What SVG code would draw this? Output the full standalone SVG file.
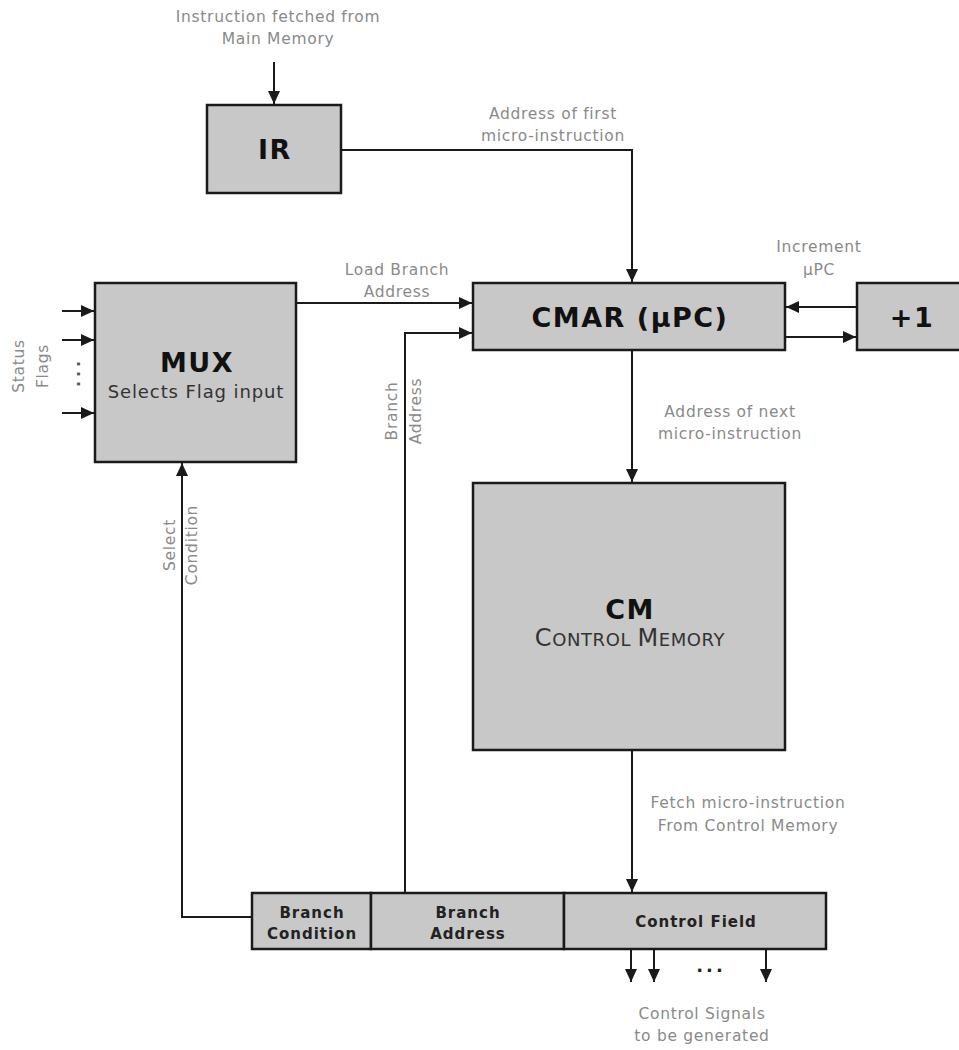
<svg xmlns="http://www.w3.org/2000/svg" width="959" height="1050" viewBox="0 0 959 1050">
<style>
.box{fill:#c8c8c8;stroke:#1a1a1a;stroke-width:2.5}
.ln{fill:none;stroke:#1a1a1a;stroke-width:2}
.lbl{font-family:"DejaVu Sans",Verdana,sans-serif;font-size:15.5px;letter-spacing:0.7px;fill:#8a8a8a;text-anchor:middle}
.big{font-family:"DejaVu Sans",Verdana,sans-serif;font-size:27px;letter-spacing:1.5px;font-weight:bold;fill:#111;text-anchor:middle}
.sub{font-family:"DejaVu Sans",Verdana,sans-serif;font-size:18px;letter-spacing:0.9px;fill:#333;text-anchor:middle}
.fld{font-family:"DejaVu Sans",Verdana,sans-serif;font-size:15px;letter-spacing:1px;font-weight:bold;fill:#222;text-anchor:middle}
</style>
<defs>
<marker id="ah" markerUnits="userSpaceOnUse" markerWidth="14" markerHeight="12" refX="13" refY="6" orient="auto">
<path d="M0,0 L13,6 L0,12 Z" fill="#1a1a1a"/>
</marker>
</defs>
<g id="connectors">
<line class="ln" x1="274" y1="62" x2="274" y2="104" marker-end="url(#ah)"/>
<polyline class="ln" points="341,150 632,150 632,282" marker-end="url(#ah)"/>
<line class="ln" x1="296" y1="303" x2="472" y2="303" marker-end="url(#ah)"/>
<polyline class="ln" points="405,893 405,333 472,333" marker-end="url(#ah)"/>
<line class="ln" x1="857" y1="307" x2="786" y2="307" marker-end="url(#ah)"/>
<line class="ln" x1="785" y1="337" x2="856" y2="337" marker-end="url(#ah)"/>
<line class="ln" x1="62" y1="311" x2="94" y2="311" marker-end="url(#ah)"/>
<line class="ln" x1="62" y1="340" x2="94" y2="340" marker-end="url(#ah)"/>
<line class="ln" x1="62" y1="413" x2="94" y2="413" marker-end="url(#ah)"/>
<polyline class="ln" points="252,917 182,917 182,463" marker-end="url(#ah)"/>
<line class="ln" x1="632" y1="350" x2="632" y2="482" marker-end="url(#ah)"/>
<line class="ln" x1="632" y1="750" x2="632" y2="892" marker-end="url(#ah)"/>
<line class="ln" x1="631" y1="949" x2="631" y2="982" marker-end="url(#ah)"/>
<line class="ln" x1="654" y1="949" x2="654" y2="982" marker-end="url(#ah)"/>
<line class="ln" x1="766" y1="949" x2="766" y2="982" marker-end="url(#ah)"/>
</g>
<g id="labels">
<text class="lbl" x="278" y="22">Instruction fetched from</text>
<text class="lbl" x="278" y="44">Main Memory</text>
<text class="lbl" x="553" y="119">Address of first</text>
<text class="lbl" x="553" y="141">micro-instruction</text>
<text class="lbl" x="397" y="275">Load Branch</text>
<text class="lbl" x="397" y="297">Address</text>
<text class="lbl" x="819" y="252">Increment</text>
<text class="lbl" x="819" y="275">μPC</text>
<text class="lbl" x="730" y="417">Address of next</text>
<text class="lbl" x="730" y="439">micro-instruction</text>
<text class="lbl" x="748" y="808">Fetch micro-instruction</text>
<text class="lbl" x="748" y="831">From Control Memory</text>
<text class="lbl" x="702" y="1019">Control Signals</text>
<text class="lbl" x="702" y="1041">to be generated</text>
<text class="lbl" transform="translate(24,366) rotate(-90)">Status</text>
<text class="lbl" transform="translate(48,366) rotate(-90)">Flags</text>
<text class="lbl" transform="translate(397,411) rotate(-90)">Branch</text>
<text class="lbl" transform="translate(421,411) rotate(-90)">Address</text>
<text class="lbl" transform="translate(175,545) rotate(-90)">Select</text>
<text class="lbl" transform="translate(197,545) rotate(-90)">Condition</text>
<text x="0" y="0" transform="translate(80,372) rotate(-90)" style="font-family:'DejaVu Sans',sans-serif;font-size:16px;letter-spacing:4px;font-weight:bold;fill:#555;text-anchor:middle">...</text>
<text x="711" y="972" style="font-family:'DejaVu Sans',sans-serif;font-size:18px;letter-spacing:3px;font-weight:bold;fill:#222;text-anchor:middle">...</text>
</g>
<g id="IR">
<rect class="box" x="207" y="105" width="134" height="88"/>
<text class="big" x="275" y="159">IR</text>
</g>
<g id="CMAR">
<rect class="box" x="473" y="283" width="312" height="67"/>
<text class="big" x="630" y="327">CMAR (μPC)</text>
</g>
<g id="plus1">
<rect class="box" x="857" y="283" width="110" height="67"/>
<text class="big" x="912" y="327">+1</text>
</g>
<g id="MUX">
<rect class="box" x="95" y="283" width="201" height="179"/>
<text class="big" x="197" y="372">MUX</text>
<text class="sub" x="196" y="398">Selects Flag input</text>
</g>
<g id="CM">
<rect class="box" x="473" y="483" width="312" height="267"/>
<text class="big" x="630" y="619">CM</text>
<text class="sub" x="630" y="646" style="letter-spacing:0.6px"><tspan style="font-size:24px">C</tspan>ONTROL <tspan style="font-size:24px">M</tspan>EMORY</text>
</g>
<g id="microinstruction">
<rect class="box" x="252" y="893" width="119" height="56"/>
<rect class="box" x="371" y="893" width="193" height="56"/>
<rect class="box" x="564" y="893" width="262" height="56"/>
<text class="fld" x="312" y="918">Branch</text>
<text class="fld" x="312" y="939">Condition</text>
<text class="fld" x="468" y="918">Branch</text>
<text class="fld" x="468" y="939">Address</text>
<text class="fld" x="696" y="927">Control Field</text>
</g>
</svg>
